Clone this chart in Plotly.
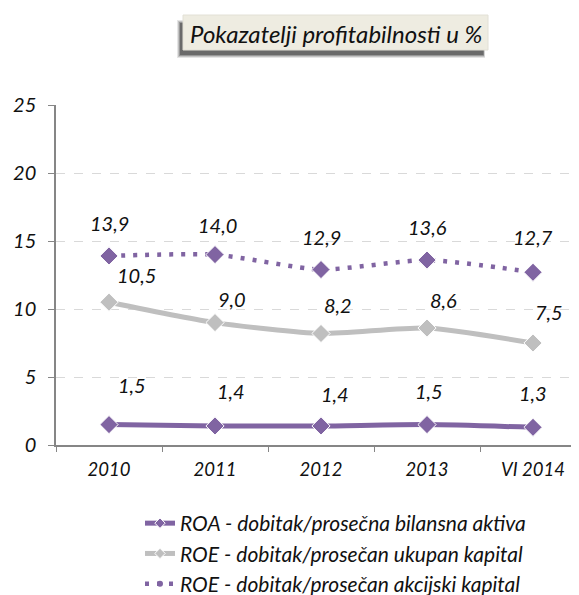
import plotly.graph_objects as go

categories = ["2010", "2011", "2012", "2013", "VI 2014"]
roa = [1.5, 1.4, 1.4, 1.5, 1.3]
roe_total = [10.5, 9.0, 8.2, 8.6, 7.5]
roe_share = [13.9, 14.0, 12.9, 13.6, 12.7]
names = [
    "ROA - dobitak/prosečna bilansna aktiva",
    "ROE - dobitak/prosečan ukupan kapital",
    "ROE - dobitak/prosečan akcijski kapital",
]
title_text = "Pokazatelji profitabilnosti u %"
y_ticks = [0, 5, 10, 15, 20, 25]

PURPLE = "#8064A2"
GRAY = "#BFBFBF"
FONT = "Lato"
TXT = "#111111"

# label offsets (px) per series, as in the reference
roa_shift = [(23, 40), (16, 35), (14, 32), (2, 34), (0, 34)]
roe_t_shift = [(27, 27), (17, 24), (17, 28), (16, 28), (16, 31)]
roe_s_shift = [(0, 33), (2, 30), (0, 33), (0, 33), (0, 35)]

# the page body adds an 8px margin; size the figure so it fills the window
OFF = 8
W, H = 579 - OFF, 595 - OFF
PL, PR, PT, PB = 56, 579, 105, 445  # plot area in window pixels
L, T = PL - OFF, PT - OFF
B = H - (PB - OFF)
R = 0
PW, PH = PR - PL, PB - PT


def px(x):
    return (x - PL) / PW


def py(y):
    return (PB - y) / PH


fig = go.Figure()
series = [
    (roa, names[0], PURPLE, 5, "solid", roa_shift, 8),
    (roe_total, names[1], GRAY, 5, "solid", roe_t_shift, 8),
    (roe_share, names[2], PURPLE, 4.5, "4px,8px", roe_s_shift, 6),
]
for i, (vals, name, col, w, dash, shifts, lsize) in enumerate(series):
    fig.add_trace(go.Scatter(
        x=categories, y=vals, name=name, mode="lines+markers",
        line=dict(color=col, width=w, dash=dash, shape="spline", smoothing=0.6),
        marker=dict(symbol="diamond", size=14, color=col, line=dict(color="white", width=1)),
        showlegend=False, cliponaxis=False,
    ))
    # legend entry with a small marker, as in the reference
    fig.add_trace(go.Scatter(
        x=[None], y=[None], name=name, mode="lines+markers",
        line=dict(color=col, width=w, dash=dash),
        marker=dict(symbol="diamond" if i < 2 else "circle", size=lsize, color=col,
                    line=dict(color="white", width=1 if i < 2 else 0)),
        showlegend=True,
    ))
    for j, (v, (dx, dy)) in enumerate(zip(vals, shifts)):
        fig.add_annotation(
            x=j, y=v, xref="x", yref="y", text=f"{v:.1f}".replace(".", ","),
            showarrow=False, xshift=dx, yshift=dy, xanchor="center", yanchor="middle",
            font=dict(family=FONT, size=20, color=TXT, style="italic"),
        )

# title box with shadow
shapes = []
for k, a in enumerate([0.10, 0.15, 0.22, 0.30]):
    shapes.append(dict(type="rect", xref="paper", yref="paper",
                       x0=px(177 + k), x1=px(485 - k * 0.5), y0=py(58 - k), y1=py(20 + k),
                       fillcolor=f"rgba(0,0,0,{a})", line=dict(width=0), layer="above"))
shapes.append(dict(type="rect", xref="paper", yref="paper",
                   x0=px(183), x1=px(488), y0=py(50), y1=py(15),
                   fillcolor="#EEECE1", line=dict(color="#E2E0D6", width=1), layer="above"))
fig.update_layout(shapes=shapes)
fig.add_annotation(x=px(336), y=py(33), xref="paper", yref="paper", text=title_text,
                   showarrow=False, xanchor="center", yanchor="middle",
                   font=dict(family=FONT, size=24, color=TXT, style="italic"))

fig.update_layout(
    width=W, height=H,
    margin=dict(l=L, r=R, t=T, b=B, autoexpand=False),
    paper_bgcolor="white", plot_bgcolor="white",
    showlegend=True,
    legend=dict(x=px(140), y=py(503), xanchor="left", yanchor="top",
                font=dict(family=FONT, size=21, color=TXT, style="italic"),
                tracegroupgap=0, bgcolor="rgba(0,0,0,0)"),
    xaxis=dict(type="category", range=[-0.5, 4.434], showgrid=False,
               showline=True, linecolor="#868686", linewidth=1.5,
               ticks="outside", tickson="boundaries", ticklen=5, tickcolor="#868686",
               ticklabelstandoff=7,
               tickfont=dict(family=FONT, size=18.5, color=TXT, style="italic")),
    yaxis=dict(range=[0, 25], tickvals=y_ticks, showgrid=True, gridcolor="#D9D9D9",
               griddash="dash", gridwidth=1, zeroline=False,
               showline=True, linecolor="#868686", linewidth=1.5,
               ticks="outside", ticklen=6, tickcolor="#868686", ticklabelstandoff=8,
               tickfont=dict(family=FONT, size=20, color=TXT, style="italic")),
)

fig.write_html("out.html")
